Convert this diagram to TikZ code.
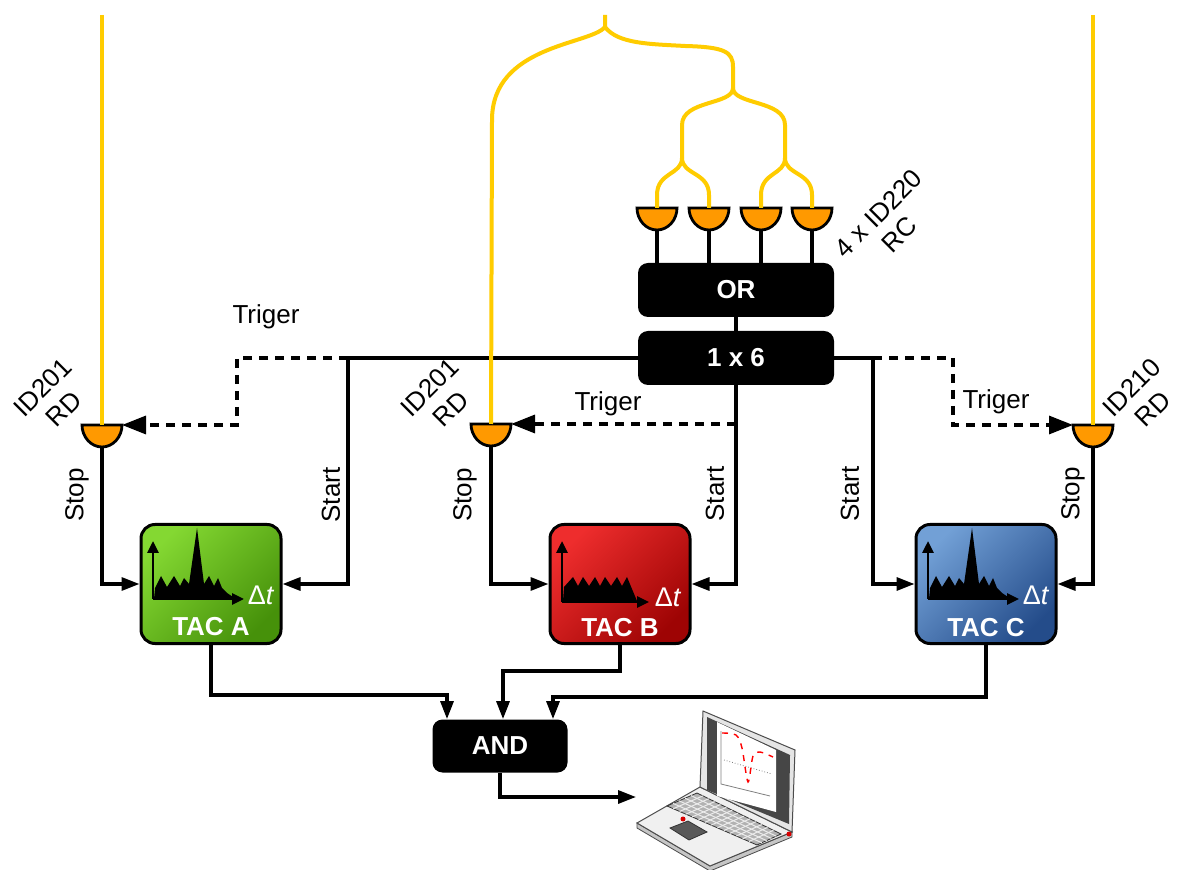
\documentclass[tikz,border=0pt]{standalone}
\usepackage{fontspec}
\setmainfont{Liberation Sans}
\usetikzlibrary{arrows.meta,calc}

\definecolor{fibre}{RGB}{255,204,0}
\definecolor{detorange}{RGB}{255,153,0}
\definecolor{tacAtop}{RGB}{132,216,50}
\definecolor{tacAbot}{RGB}{70,145,10}
\definecolor{tacBtop}{RGB}{238,45,45}
\definecolor{tacBbot}{RGB}{158,4,4}
\definecolor{tacCtop}{RGB}{114,160,214}
\definecolor{tacCbot}{RGB}{36,76,138}

\tikzset{
  lbl/.style={font=\fontsize{13}{15}\selectfont, inner sep=1pt},
  fiber/.style={draw=fibre, line width=2pt},
  wire/.style={line width=1.6pt},
  sig/.style={wire, -{Triangle[length=9pt,width=6.5pt]}},
  trig/.style={wire, dash pattern=on 4.5pt off 3.5pt, -{Triangle[length=12pt,width=9pt]}},
  logic/.style={fill=black, text=white, font=\fontsize{13}{15}\selectfont\bfseries,
    rounded corners=5pt, minimum width=98pt, minimum height=27pt},
  tac/.style 2 args={draw=black, line width=1.5pt, rounded corners=7pt,
    minimum width=70pt, minimum height=59.5pt, top color=#1, bottom color=#2, shading angle=45},
  taclabel/.style={text=white, font=\fontsize{13}{15}\selectfont\bfseries},
  dtlabel/.style={text=white, font=\fontsize{13.5}{16}\selectfont},
  histaxis/.style={line width=1.4pt, -{Triangle[length=6pt,width=5.5pt]}},
  keygrid/.style={white!85!gray, line width=0.5pt},
  % half-disc detector, flat side up
  pics/detector/.style={code={
    \filldraw[fill=detorange, draw=black, line width=1.4pt]
      (-20,0) .. controls (-20,12) and (-11,22) .. (0,22)
      .. controls (11,22) and (20,12) .. (20,0) -- cycle;
    \coordinate (-c) at (0,0);
    \coordinate (-e) at (20,0);
    \coordinate (-w) at (-20,0);
    \coordinate (-s) at (0,23);
  }},
  pics/peakhist/.style={code={
    \fill (-57,15) -- (-56,4) -- (-50,-8) -- (-44,3) -- (-37,-8) -- (-31,2) -- (-27,-6)
      -- (-22,0) -- (-14,-56) -- (-7,0) -- (-2,-8) -- (3,2) -- (7,-6) -- (11,4)
      -- (16,9) -- (22,13) -- (30,15) -- cycle;
    \draw[histaxis] (-58,15) -- (-58,-43);
    \draw[histaxis] (-58,15) -- (33,15);
    \node[dtlabel] (-dt) at (50,11) {Δ\textit{t}};
  }},
  pics/combhist/.style={code={
    \fill (-57,17) -- (-56,3) -- (-47,-7) -- (-42,2) -- (-37,-7) -- (-31,2) -- (-25,-7)
      -- (-20,2) -- (-15,-7) -- (-9,2) -- (-3,-7) -- (2,2) -- (7,-7) -- (12,5)
      -- (17,17) -- cycle;
    \draw[histaxis] (-58,18) -- (-58,-43);
    \draw[histaxis] (-58,18) -- (29,18);
    \node[dtlabel] (-dt) at (48,13) {Δ\textit{t}};
  }},
}

\begin{document}
\begin{tikzpicture}[x=0.5pt,y=-0.5pt]
  \fill[white] (0,0) rectangle (1182,870);
  \useasboundingbox (0,0) rectangle (1182,870);

  % logic units
  \node[logic] (orgate) at (736,290) {OR};
  \node[logic] (split) at (736,358) {1 x 6};
  \node[logic, minimum width=67.5pt, minimum height=26.5pt] (andgate) at (500,746) {AND};

  % time-to-amplitude converters
  \node[tac={tacAtop}{tacAbot}] (tacA) at (211,584) {};
  \node[tac={tacBtop}{tacBbot}] (tacB) at (620,584) {};
  \node[tac={tacCtop}{tacCbot}] (tacC) at (986,584) {};
  \pic (histA) at (tacA.center) {peakhist};
  \pic (histB) at (tacB.center) {combhist};
  \pic (histC) at (tacC.center) {peakhist};
  \node[taclabel] (labA) at ([yshift=-21.5pt]tacA.center) {TAC A};
  \node[taclabel] (labB) at ([yshift=-22pt]tacB.center) {TAC B};
  \node[taclabel] (labC) at ([yshift=-22pt]tacC.center) {TAC C};

  % detectors
  \pic (rdA) at (102,425) {detector};
  \pic (rdB) at (491,424) {detector};
  \pic (rdC) at (1093,425) {detector};
  \foreach \i/\x in {1/657,2/709,3/761,4/812}
    \pic (rc\i) at (\x,208) {detector};

  % corners of the start / trigger lines
  \coordinate (jA) at (348,358);
  \coordinate (bendA) at (237,358);
  \coordinate (jC) at (873,358);
  \coordinate (bendC) at (953,358);

  % start
  \draw[sig] (split.west) -- (jA) |- (tacA.east);
  \draw[sig] (split.south) |- (tacB.east);
  \draw[sig] (split.east) -- (jC) |- (tacC.west);

  % trigger
  \draw[trig] (jA) -- (bendA) |- (rdA-e);
  \draw[trig] (split.south |- rdB-c) -- (rdB-e);
  \draw[trig] (jC) -- (bendC) |- (rdC-w);

  % stop
  \draw[sig] (rdA-s) |- (tacA.west);
  \draw[sig] (rdB-s) |- (tacB.west);
  \draw[sig] (rdC-s) |- (tacC.east);

  % RC detectors into OR
  \draw[wire] (orgate.south) -- (split.north);
  \foreach \i in {1,...,4}
    \draw[wire] (rc\i-s) -- (rc\i-s |- orgate.north);

  % TACs into AND
  \coordinate (inA) at (447,695);
  \coordinate (inB) at (503,671);
  \coordinate (inC) at (553,697);
  \draw[sig] (tacA.south) |- (inA) -- (inA |- andgate.north);
  \draw[sig] (tacB.south) |- (inB) -- (inB |- andgate.north);
  \draw[sig] (tacC.south) |- (inC) -- (inC |- andgate.north);
  \coordinate (pc) at (636,797);
  \draw[sig] (andgate.south) |- (pc);

  % fibres
  \coordinate (fibA) at (102,15);
  \coordinate (fibB) at (605,15);
  \coordinate (fibC) at (1093,15);
  \coordinate (fork1) at (605,27);
  \coordinate (fork2) at (733,88);
  \coordinate (fork3) at (682,158);
  \coordinate (fork4) at (785,158);
  \draw[fiber] (fibA) -- (rdA-c);
  \draw[fiber] (fibC) -- (rdC-c);
  \draw[fiber] (fibB) -- (fork1) .. controls (590,45) and (492,45) .. (492,120) -- (rdB-c);
  \draw[fiber] (fork1) .. controls (618,44) and (650,44) .. (685,46)
    .. controls (725,47) and (733,52) .. (733,67) -- (fork2);
  \draw[fiber] (fork2) .. controls (733,105) and (682,100) .. (682,125) -- (fork3);
  \draw[fiber] (fork2) .. controls (733,105) and (785,100) .. (785,125) -- (fork4);
  \draw[fiber] (fork3) .. controls (682,175) and (657,172) .. (657,195) -- (rc1-c);
  \draw[fiber] (fork3) .. controls (682,175) and (709,172) .. (709,195) -- (rc2-c);
  \draw[fiber] (fork4) .. controls (785,175) and (761,172) .. (761,195) -- (rc3-c);
  \draw[fiber] (fork4) .. controls (785,175) and (812,172) .. (812,195) -- (rc4-c);

  % labels
  \node[lbl] (trigA) at (266,317) {Triger};
  \node[lbl] (trigB) at (608,404) {Triger};
  \node[lbl] (trigC) at (996,402) {Triger};
  \node[lbl, rotate=90] (stopA) at (77,495) {Stop};
  \node[lbl, rotate=90] (startA) at (331,495) {Start};
  \node[lbl, rotate=90] (stopB) at (465,495) {Stop};
  \node[lbl, rotate=90] (startB) at (715,494) {Start};
  \node[lbl, rotate=90] (startC) at (850,494) {Start};
  \node[lbl, rotate=90] (stopC) at (1073,494) {Stop};
  \node[lbl, rotate=45, align=center] (nameA) at (53,398) {ID201\\RD};
  \node[lbl, rotate=45, align=center] (nameB) at (440,398) {ID201\\RD};
  \node[lbl, rotate=45, align=center] (nameC) at (1142,398) {ID210\\RD};
  \node[lbl, rotate=45, align=center] (nameRC) at (889,224) {4 x ID220\\RC};

  % laptop
  \coordinate (lidBL) at (700,787);
  \coordinate (lidTL) at (703,711);
  \coordinate (lidTR) at (795,750);
  \coordinate (lidBR) at (792,832);
  \coordinate (baseFL) at (637,823);
  \coordinate (baseFR) at (710,866);
  \filldraw[fill=gray!45, draw=gray!60!black, line width=0.4pt]
    (baseFL) -- (baseFR) -- (lidBR) -- ($(lidBR)+(0,5)$) -- ($(baseFR)+(0,5)$)
    -- ($(baseFL)+(0,5)$) -- cycle;
  \filldraw[fill=gray!12, draw=gray!60!black, line width=0.5pt]
    (lidBL) -- (lidBR) -- (baseFR) -- (baseFL) -- cycle;
  \coordinate (kb1) at (697,793);
  \coordinate (kb2) at (781,834);
  \coordinate (kb3) at (757,845);
  \coordinate (kb4) at (667,806);
  \filldraw[fill=gray!60, draw=gray!40!black, line width=0.4pt]
    (kb1) -- (kb2) -- (kb3) -- (kb4) -- cycle;
  \foreach \t in {0.2,0.4,0.6,0.8}
    \draw[keygrid] ($(kb1)!\t!(kb4)$) -- ($(kb2)!\t!(kb3)$);
  \foreach \t in {0.07,0.14,...,0.93}
    \draw[keygrid] ($(kb1)!\t!(kb2)$) -- ($(kb4)!\t!(kb3)$);
  \filldraw[fill=gray!70!black, draw=gray!40!black, line width=0.4pt]
    (670,828) -- (688,821) -- (707,832) -- (689,840) -- cycle;
  \fill[red!85!black] (683,819) circle[radius=2.5];
  \fill[red!85!black] (789,834) circle[radius=2.5];
  \filldraw[fill=gray!20, draw=gray!60!black, line width=0.5pt]
    (lidBL) -- (lidTL) -- (lidTR) -- (lidBR) -- cycle;
  \fill[gray!55!black] (707,717) -- (790,755) -- (789,824) -- (707,790) -- cycle;
  \fill[white] (717,722) -- (776,750) -- (776,812) -- (717,796) -- cycle;
  \draw[gray, line width=0.4pt] (721,731) -- (721,784) -- (770,796);
  \draw[gray, densely dotted, line width=0.4pt] (724,760) -- (772,774);
  \draw[red, dashed, line width=0.7pt] plot[smooth] coordinates
    {(722,733) (736,735) (742,748) (748,782) (753,756) (760,752) (773,757)};
\end{tikzpicture}
\end{document}
